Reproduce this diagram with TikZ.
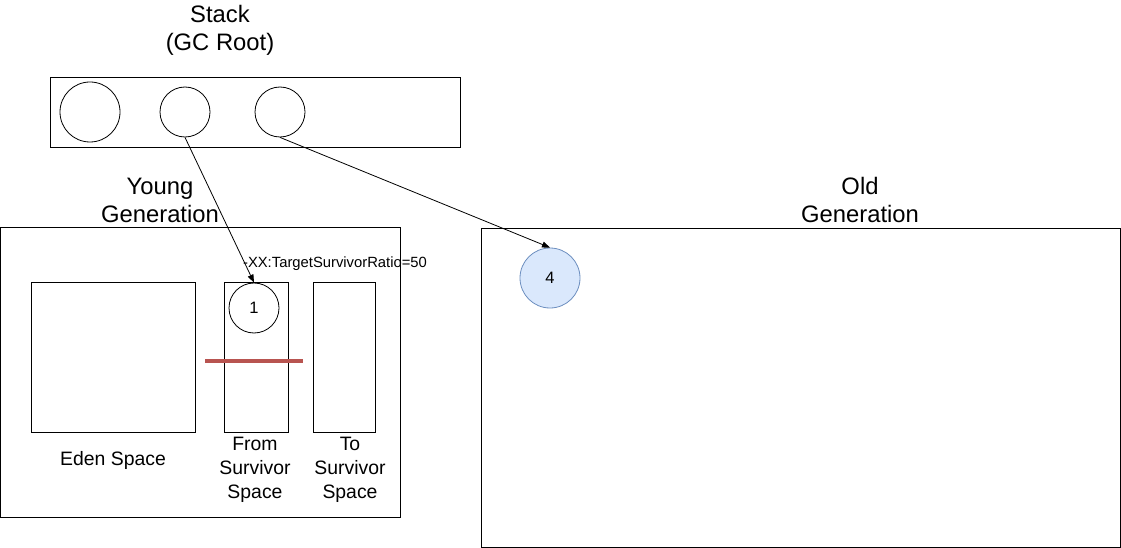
\documentclass[tikz,border=0pt]{standalone}
\usepackage{fontspec}
\setmainfont{Liberation Sans}
\usetikzlibrary{arrows.meta}
\definecolor{blfill}{HTML}{DAE8FC}
\definecolor{bldraw}{HTML}{6C8EBF}
\definecolor{redline}{HTML}{B85450}
\tikzset{
  box/.style={draw=black, line width=0.9pt},
  circ/.style={circle, draw=black, line width=0.8pt, inner sep=0pt},
  biglabel/.style={font=\fontsize{23.8}{28}\selectfont, align=center, inner sep=0pt},
  midlabel/.style={font=\fontsize{19.4}{24}\selectfont, align=center, inner sep=0pt},
  smalllabel/.style={font=\fontsize{14.8}{18}\selectfont, inner sep=0pt},
  numlabel/.style={font=\fontsize{16.5}{18}\selectfont},
  conn/.style={-{Triangle[length=8pt,width=6pt]}, line width=0.8pt, draw=black},
}
\begin{document}
\begin{tikzpicture}[x=1pt,y=-1pt]
\useasboundingbox (0,0) rectangle (1121,548);
% Stack
\node[biglabel] (stacklbl) at (220,30) {Stack\\(GC Root)};
\draw[box] (50,77) rectangle (460,147);
\node[circ, minimum size=60pt] (s1) at (90,112) {};
\node[circ, minimum size=50pt] (s2) at (185,112) {};
\node[circ, minimum size=50pt] (s3) at (280,112) {};
% Young generation
\node[biglabel] (younglbl) at (160,200) {Young\\Generation};
\draw[box] (0.5,227) rectangle (400,517);
\draw[box] (31,282) rectangle (195,432);
\draw[box] (224,282) rectangle (288,432);
\draw[box] (313,282) rectangle (375,432);
\node[midlabel] (eden) at (113,460) {Eden Space};
\node[midlabel] (from) at (255,470) {From\\Survivor\\Space};
\node[midlabel] (to) at (350,470) {To\\Survivor\\Space};
\node[circ, minimum size=50pt, numlabel] (c1) at (254,308) {1};
\draw[redline, line width=3.5pt] (205,361) -- (303,361);
\node[smalllabel] (ratio) at (335,264) {-XX:TargetSurvivorRatio=50};
% Old generation
\node[biglabel] (oldlbl) at (860,200) {Old\\Generation};
\draw[box] (481,228) rectangle (1120,547);
\node[circle, draw=bldraw, fill=blfill, line width=0.8pt, minimum size=60pt, inner sep=0pt, numlabel] (c4) at (550,278) {4};
% connectors
\draw[conn] (s2.south) -- (c1.north);
\draw[conn] (s3.south) -- (c4.north);
\end{tikzpicture}
\end{document}
